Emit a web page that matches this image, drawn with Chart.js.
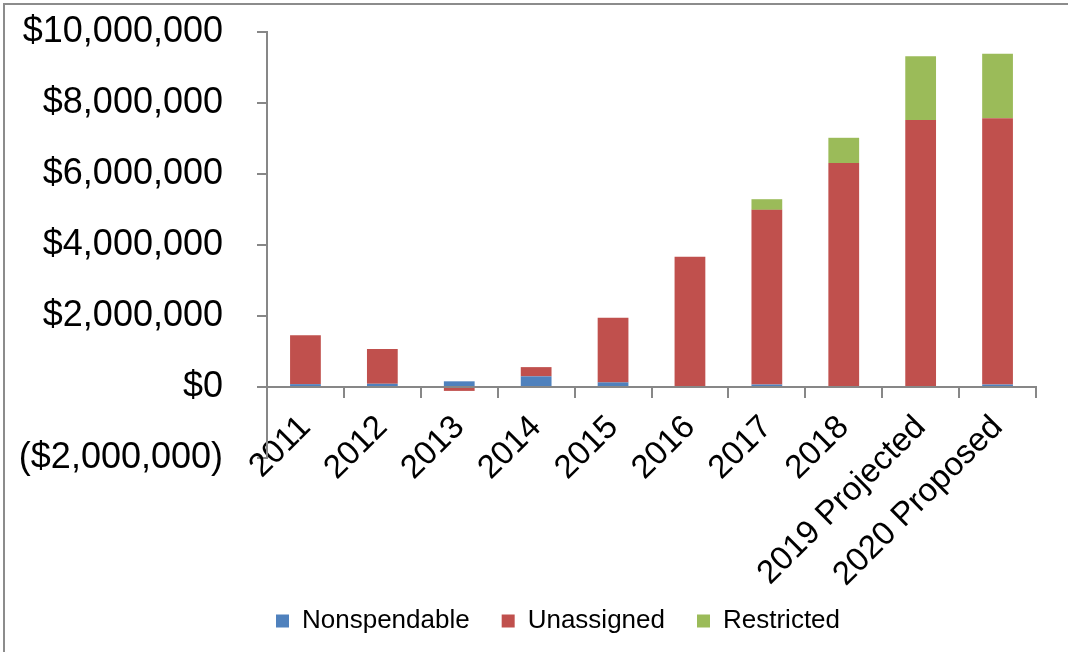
<!DOCTYPE html>
<html>
<head>
<meta charset="utf-8">
<script src="https://cdn.jsdelivr.net/npm/chart.js@4/dist/chart.umd.min.js"></script>
<style>
  html, body { margin: 0; padding: 0; background: #ffffff; }
  #wrap { width: 1068px; height: 652px; position: relative; }
</style>
</head>
<body>
<div id="wrap"><canvas id="c" width="1068" height="652"></canvas></div>
<script>
const categories = ['2011', '2012', '2013', '2014', '2015', '2016', '2017', '2018', '2019 Projected', '2020 Proposed'];
const nonspendable = [80000, 90000, 160000, 300000, 130000, 0, 70000, 0, 0, 70000];
const unassigned = [1380000, 980000, -110000, 260000, 1820000, 3670000, 4920000, 6310000, 7520000, 7500000];
const restricted = [0, 0, 0, 0, 0, 0, 300000, 710000, 1800000, 1820000];
const seriesNames = ['Nonspendable', 'Unassigned', 'Restricted'];
const yMin = -2000000, yMax = 10000000, yStep = 2000000;

const AXIS = '#878787';
const FONT = "'Liberation Sans', Arial, sans-serif";

const frame = {
  id: 'frame',
  beforeDraw(chart) {
    const ctx = chart.ctx;
    ctx.save();
    ctx.fillStyle = '#ffffff';
    ctx.fillRect(0, 0, chart.width, chart.height);
    ctx.fillStyle = '#8c8c8c';
    ctx.fillRect(3, 3, 2, chart.height - 3);
    ctx.fillRect(3, 3, chart.width - 3, 2);
    ctx.restore();
  }
};

const legendShift = {
  id: 'legendShift',
  afterLayout(chart) {
    const lg = chart.legend;
    if (lg) { lg.left += 40; lg.right += 40; }
  }
};

function money(v) {
  const s = '$' + Math.abs(v).toLocaleString('en-US');
  return v < 0 ? '(' + s + ')' : s;
}

new Chart(document.getElementById('c'), {
  type: 'bar',
  data: {
    labels: categories,
    datasets: [
      { label: seriesNames[0], data: nonspendable, backgroundColor: '#4F81BD' },
      { label: seriesNames[1], data: unassigned, backgroundColor: '#C0504D' },
      { label: seriesNames[2], data: restricted, backgroundColor: '#9BBB59' }
    ]
  },
  options: {
    responsive: false,
    animation: false,
    devicePixelRatio: 1,
    layout: { padding: { left: 0, right: 32, top: 32, bottom: 8 } },
    datasets: { bar: { barPercentage: 0.4, categoryPercentage: 1.0, borderWidth: 0 } },
    scales: {
      x: {
        stacked: true,
        position: { y: 0 },
        grid: { drawOnChartArea: false, drawTicks: true, tickLength: 10, color: AXIS, lineWidth: 2, offset: true },
        border: { display: true, color: AXIS, width: 2 },
        ticks: {
          color: '#000000',
          font: { family: FONT, size: 33 },
          minRotation: 45, maxRotation: 45,
          padding: 11,
          autoSkip: false
        }
      },
      xSpace: {
        type: 'category',
        position: 'bottom',
        labels: categories,
        grid: { display: false },
        border: { display: false },
        ticks: { display: false },
        afterFit(scale) { scale.height = 118; }
      },
      y: {
        stacked: true,
        min: yMin, max: yMax,
        grid: { drawOnChartArea: false, drawTicks: true, tickLength: 10, color: AXIS, lineWidth: 2 },
        border: { display: true, color: AXIS, width: 2 },
        ticks: {
          stepSize: yStep,
          color: '#000000',
          font: { family: FONT, size: 36 },
          padding: 34,
          callback: (v) => money(v)
        },
        afterFit(scale) { scale.width = 267; scale.paddingTop = 0; scale.paddingBottom = 0; }
      }
    },
    plugins: {
      legend: {
        position: 'bottom',
        labels: {
          color: '#000000',
          font: { family: FONT, size: 26 },
          boxWidth: 13, boxHeight: 13,
          padding: 32
        }
      },
      tooltip: { enabled: false }
    }
  },
  plugins: [frame, legendShift]
});
</script>
</body>
</html>
